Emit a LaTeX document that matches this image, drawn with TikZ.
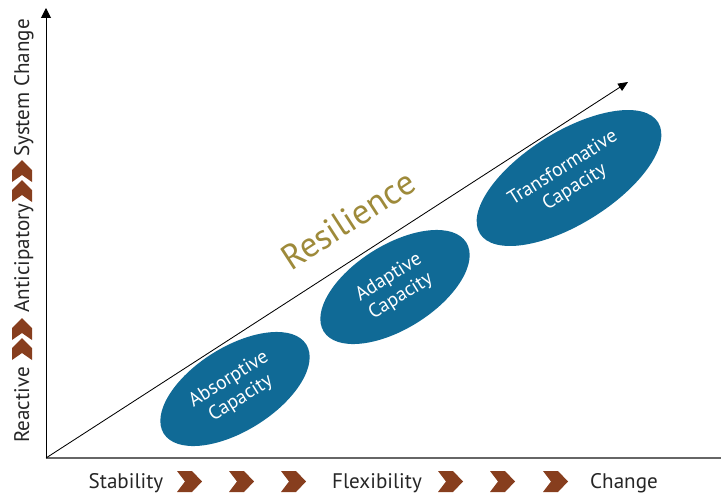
\documentclass[tikz,border=0pt]{standalone}
\usepackage{fontspec}
\setmainfont{PT Sans}
\usetikzlibrary{arrows.meta,shapes.geometric}

\definecolor{bleucap}{RGB}{16,106,150}
\definecolor{brun}{RGB}{135,62,30}
\definecolor{doree}{RGB}{158,138,58}

\begin{document}
\begin{tikzpicture}[x=0.025cm, y=-0.025cm,
		capacite/.style={ellipse, fill=bleucap, text=white, align=center, inner sep=0pt,
			font=\fontsize{14}{16}\selectfont, rotate=32},
		etiquette/.style={font=\fontsize{15}{18}\selectfont, text=black!85, anchor=base},
		chevron/.style={fill=brun}]
		
		\useasboundingbox (0,0) rectangle (721,493);
		
		% Origine et extrémités des axes
		\coordinate (O) at (46,458);
		\coordinate (haut) at (46,8);
		\coordinate (droite) at (721,458);
		\coordinate (fin) at (628,82);
		
		% Axes
		\draw[gray!80!black, line width=1.4pt] (O) -- (droite);
		\draw[-{Triangle[length=7pt,width=7pt]}, line width=0.7pt] (O) -- (haut);
		
		% Flèche de la résilience
		\draw[-{Triangle[length=7pt,width=6pt]}, line width=0.6pt] (O) -- (fin);
		\node[doree, rotate=33, font=\fontsize{25}{30}\selectfont] (resilience) at (348,220) {Resilience};
		
		% Ellipses des capacités
		\node[capacite, minimum width=4.2cm, minimum height=2.1cm] (absorptive) at (235,389) {Absorptive\\Capacity};
		\node[capacite, minimum width=4.2cm, minimum height=2.1cm] (adaptive) at (395,287) {Adaptive\\Capacity};
		\node[capacite, minimum width=5.25cm, minimum height=2.3cm] (transformative) at (569,178) {Transformative\\Capacity};
		
		% Étiquettes en bas
		\node[etiquette] (stabilite) at (126,488) {Stability};
		\node[etiquette] (flexibilite) at (377,488) {Flexibility};
		\node[etiquette] (changement) at (624,488) {Change};
		
		% Étiquettes à gauche
		\node[etiquette, rotate=90] (reactif) at (29,405) {Reactive};
		\node[etiquette, rotate=90] (anticipatif) at (29,258) {Anticipatory};
		\node[etiquette, rotate=90] (systeme) at (29,88) {System Change};
		
		% Chevrons horizontaux
		\foreach \x in {177,229,281,438,490,543}{
			\fill[chevron] (\x,471) -- ++(15,0) -- ++(10,10.5) -- ++(-10,10.5) -- ++(-15,0) -- ++(8,-10.5) -- cycle;
		}
		
		% Chevrons verticaux
		\foreach \y in {160,180,318,338}{
			\fill[chevron] (22,\y) -- ++(10,10) -- ++(0,12) -- ++(-10,-7) -- ++(-10,7) -- ++(0,-12) -- cycle;
		}
		
	\end{tikzpicture}
\end{document}
